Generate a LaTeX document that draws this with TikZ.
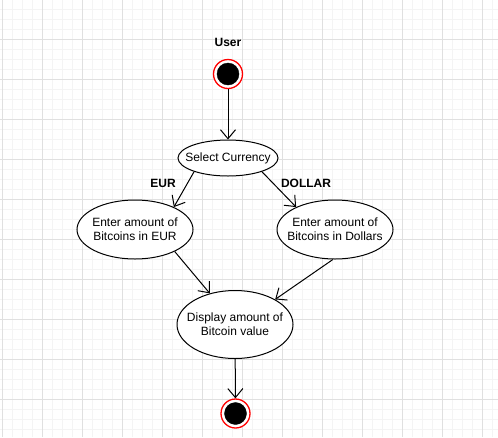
\documentclass[tikz,border=0pt]{standalone}
\usepackage{fontspec}
\setmainfont{Liberation Sans}
\usepackage{tikz}
\usetikzlibrary{positioning, shapes.geometric, arrows.meta}
\definecolor{gridmajor}{HTML}{E0E0E0}
\definecolor{gridminor}{HTML}{F4F4F4}
\definecolor{ringred}{HTML}{FF0000}

\tikzset{
    usecase/.style={ellipse, draw=black, line width=1pt, fill=white, inner sep=-30pt,
        align=center, font=\fontsize{12}{14}\selectfont},
    ring/.style={circle, draw=ringred, line width=1.3pt, fill=white, minimum size=29pt, inner sep=0pt},
    blackdot/.style={circle, draw=black, fill=black, minimum size=22pt, inner sep=0pt},
    tag/.style={font=\fontsize{12}{14}\selectfont\bfseries},
    flow/.style={draw=black, line width=1pt, -{Straight Barb[length=9pt, width=15pt, line width=1pt]}}
}

\begin{document}
\begin{tikzpicture}[x=1pt, y=-1pt]
            \useasboundingbox (0,0) rectangle (498,437);
            \fill[white] (0,0) rectangle (498,437);
            % grid
            \foreach \gx in {2,12,...,492} \draw[gridminor, line width=1pt] (\gx,0) -- (\gx,437);
            \foreach \gy in {9,19,...,429} \draw[gridminor, line width=1pt] (0,\gy) -- (498,\gy);
            \foreach \gx in {2,42,...,482} \draw[gridmajor, line width=1pt] (\gx,0) -- (\gx,437);
            \foreach \gy in {-1,39,...,399} \draw[gridmajor, line width=1pt] (0,\gy) -- (498,\gy);
            % states
            \node[tag] (user) at (228,42) {User};
            \node[ring] (start) at (228,74) {};
            \node[blackdot] at (start) {};
            \node[usecase, minimum width=100pt, minimum height=36pt] (select) at (228,158) {Select Currency};
            \node[usecase, minimum width=116pt, minimum height=59pt] (eurbox) at (135,229.5) {Enter amount of\\Bitcoins in EUR};
            \node[usecase, minimum width=116pt, minimum height=59pt] (dollarbox) at (335,229.5) {Enter amount of\\Bitcoins in Dollars};
            \node[usecase, minimum width=116pt, minimum height=68pt] (display) at (235,324.5) {Display amount of\\Bitcoin value};
            \node[ring] (final) at (235.5,413.5) {};
            \node[blackdot] at (final) {};
            % labels
            \node[tag] (eurtag) at (163,183) {EUR};
            \node[tag] (dollartag) at (306,183) {DOLLAR};
            % transitions
            \draw[flow] (start) -- (select);
            \draw[flow] (select.202) -- (eurbox.30);
            \draw[flow] (select.338) -- (dollarbox.150);
            \draw[flow] (eurbox.331) -- (display.129);
            \draw[flow] (dollarbox.266) -- (display.32);
            \draw[flow] (display) -- (final);
        \end{tikzpicture}
\end{document}
